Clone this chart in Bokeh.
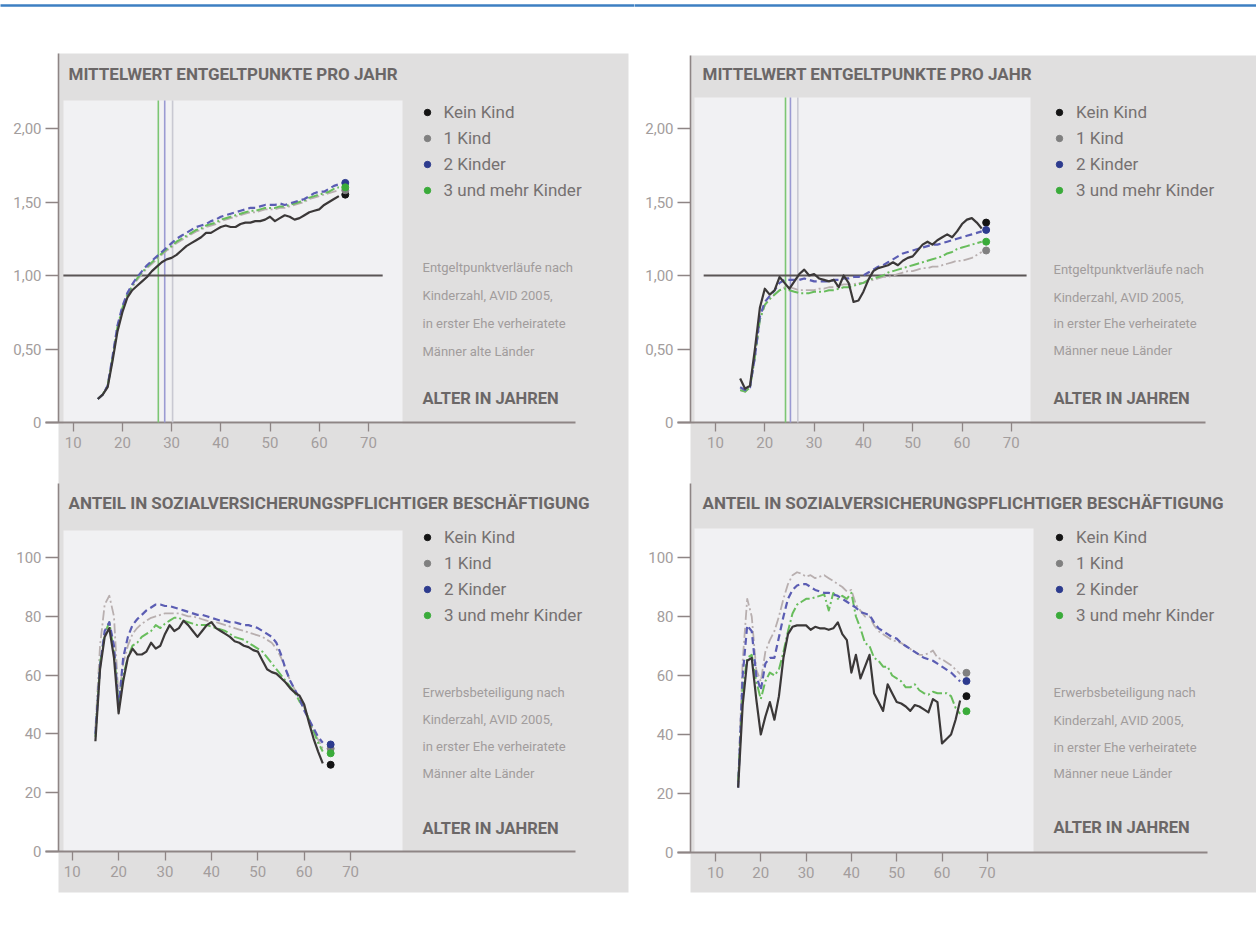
from bokeh.plotting import figure
from bokeh.models import Range1d, LinearAxis, FixedTicker, CustomJSTickFormatter, Legend, LegendItem
from bokeh.layouts import row
from bokeh.embed import file_html
from bokeh.resources import INLINE
from bokeh.core.properties import value

FONT = "Roboto"

# ---------------- data ----------------
AGES = list(range(15, 65))
SERIES = ["Kein Kind", "1 Kind", "2 Kinder", "3 und mehr Kinder"]
X_TICKS = [10, 20, 30, 40, 50, 60, 70]
EP_TICKS = [0, 0.5, 1.0, 1.5, 2.0]
SV_TICKS = [0, 20, 40, 60, 80, 100]

# Mittelwert Entgeltpunkte, alte Laender
EP_WEST_0 = [0.16, 0.19, 0.24, 0.42, 0.62, 0.75, 0.85, 0.90, 0.93, 0.96,
             0.99, 1.03, 1.06, 1.09, 1.11, 1.12, 1.14, 1.17, 1.20, 1.22,
             1.24, 1.26, 1.29, 1.29, 1.31, 1.33, 1.34, 1.33, 1.33, 1.35,
             1.36, 1.36, 1.37, 1.37, 1.38, 1.40, 1.37, 1.39, 1.41, 1.40,
             1.38, 1.39, 1.41, 1.43, 1.44, 1.45, 1.48, 1.50, 1.52, 1.54]
EP_WEST_1 = [0.16, 0.19, 0.25, 0.44, 0.64, 0.77, 0.86, 0.92, 0.97, 1.01,
             1.05, 1.08, 1.11, 1.14, 1.17, 1.19, 1.22, 1.24, 1.26, 1.28,
             1.30, 1.31, 1.33, 1.34, 1.35, 1.37, 1.38, 1.39, 1.40, 1.41,
             1.42, 1.43, 1.43, 1.44, 1.45, 1.45, 1.45, 1.46, 1.46, 1.47,
             1.48, 1.49, 1.50, 1.52, 1.53, 1.54, 1.55, 1.56, 1.57, 1.58]
EP_WEST_2 = [0.16, 0.19, 0.25, 0.45, 0.66, 0.79, 0.88, 0.94, 0.99, 1.03,
             1.07, 1.10, 1.13, 1.16, 1.19, 1.22, 1.25, 1.27, 1.29, 1.31,
             1.33, 1.34, 1.35, 1.37, 1.38, 1.40, 1.41, 1.42, 1.43, 1.44,
             1.45, 1.46, 1.46, 1.47, 1.48, 1.48, 1.48, 1.49, 1.48, 1.49,
             1.50, 1.51, 1.52, 1.54, 1.56, 1.57, 1.57, 1.59, 1.61, 1.62]
EP_WEST_3 = [0.16, 0.19, 0.25, 0.44, 0.65, 0.78, 0.87, 0.93, 0.98, 1.02,
             1.06, 1.09, 1.12, 1.15, 1.18, 1.20, 1.23, 1.25, 1.27, 1.29,
             1.31, 1.32, 1.34, 1.35, 1.36, 1.38, 1.39, 1.40, 1.41, 1.42,
             1.43, 1.44, 1.44, 1.45, 1.46, 1.46, 1.46, 1.47, 1.47, 1.48,
             1.49, 1.50, 1.51, 1.53, 1.54, 1.55, 1.56, 1.57, 1.59, 1.60]
EP_WEST_END_AGE = 65.3
EP_WEST_END = [1.55, 1.58, 1.63, 1.60]
EP_WEST_VLINES = [27.3, 28.6, 30.2]

# Mittelwert Entgeltpunkte, neue Laender
EP_EAST_0 = [0.30, 0.23, 0.25, 0.50, 0.78, 0.91, 0.87, 0.90, 0.99, 0.95,
             0.91, 0.96, 1.01, 1.04, 1.00, 1.01, 0.98, 0.97, 0.96, 0.97,
             0.92, 1.00, 0.95, 0.82, 0.83, 0.89, 0.97, 1.03, 1.05, 1.06,
             1.07, 1.09, 1.07, 1.10, 1.12, 1.13, 1.17, 1.21, 1.23, 1.21,
             1.24, 1.26, 1.28, 1.26, 1.30, 1.35, 1.38, 1.39, 1.36, 1.32]
EP_EAST_1 = [0.22, 0.21, 0.24, 0.44, 0.70, 0.80, 0.84, 0.87, 0.90, 0.92,
             0.92, 0.91, 0.90, 0.90, 0.90, 0.90, 0.91, 0.91, 0.92, 0.92,
             0.93, 0.94, 0.94, 0.94, 0.95, 0.95, 0.96, 0.97, 0.98, 0.99,
             0.99, 1.00, 1.01, 1.02, 1.03, 1.03, 1.04, 1.05, 1.05, 1.06,
             1.06, 1.07, 1.08, 1.09, 1.10, 1.10, 1.11, 1.12, 1.14, 1.16]
EP_EAST_2 = [0.24, 0.22, 0.24, 0.45, 0.72, 0.82, 0.86, 0.90, 0.95, 0.97,
             0.97, 0.97, 0.97, 0.98, 0.97, 0.96, 0.96, 0.96, 0.96, 0.97,
             0.97, 0.98, 0.98, 0.99, 0.99, 1.00, 1.02, 1.04, 1.06, 1.07,
             1.09, 1.11, 1.13, 1.15, 1.16, 1.17, 1.18, 1.19, 1.20, 1.21,
             1.21, 1.22, 1.23, 1.24, 1.25, 1.26, 1.27, 1.28, 1.29, 1.30]
EP_EAST_3 = [0.22, 0.21, 0.24, 0.45, 0.70, 0.80, 0.84, 0.87, 0.90, 0.91,
             0.90, 0.89, 0.88, 0.88, 0.88, 0.89, 0.89, 0.89, 0.90, 0.90,
             0.91, 0.92, 0.92, 0.93, 0.94, 0.95, 0.97, 0.98, 0.99, 1.00,
             1.02, 1.03, 1.04, 1.05, 1.06, 1.07, 1.08, 1.09, 1.10, 1.11,
             1.12, 1.13, 1.15, 1.16, 1.18, 1.19, 1.20, 1.21, 1.22, 1.23]
EP_EAST_END_AGE = 64.9
EP_EAST_END = [1.36, 1.17, 1.31, 1.23]
EP_EAST_VLINES = [24.2, 25.2, 26.7]

# Anteil in SV-Beschaeftigung, alte Laender
SV_WEST_0 = [37.5, 62, 73, 76, 66, 47, 58, 66, 69, 67,
             67, 68, 71, 69, 70, 74, 77, 75, 76, 78.5,
             77, 75, 73, 75, 77, 78, 76, 75, 74, 73,
             71.5, 71, 70, 69.5, 68.5, 68, 65, 62, 61, 60.5,
             59, 57.5, 55.5, 54, 53, 50, 44, 38.5, 34, 30]
SV_WEST_1 = [42, 70, 84, 87, 80, 52, 64, 70, 74, 76,
             77.5, 78.5, 79.5, 80, 80.5, 81, 81, 81, 81, 80.5,
             80, 80, 79.5, 79, 78.5, 78, 78, 77.5, 77, 76.5,
             76, 75.5, 75, 74.5, 74, 73.5, 73, 72, 71, 69,
             66, 62, 58, 55, 52, 49, 45, 41, 38, 35]
SV_WEST_2 = [40, 63, 75, 78, 70, 49, 66, 73, 77, 79,
             80.5, 82, 83, 84, 84, 83.5, 83.5, 83, 82.5, 82,
             81.5, 81, 80.5, 80.5, 80, 79.5, 79, 78.5, 78.5, 78,
             78, 77.5, 77, 77, 76.5, 76, 75, 74, 73, 71,
             67, 62, 58, 55, 52, 48, 45, 42, 39, 37]
SV_WEST_3 = [39, 64, 74, 78, 68, 50, 60, 66, 70, 71,
             73, 74, 75, 77, 76, 77.5, 78.5, 79.5, 79.5, 78.5,
             78, 77.5, 77, 77, 77, 76.5, 76, 75.5, 75, 74,
             73, 72.5, 72, 71, 70, 69, 68, 66, 64, 62,
             60, 58, 56, 54, 51, 49, 45, 41, 37, 34]
SV_WEST_END_AGE = 65.7
SV_WEST_END = [29.5, 35.0, 36.4, 33.4]

# Anteil in SV-Beschaeftigung, neue Laender
SV_EAST_0 = [22, 50, 65, 66, 52, 40, 46, 51, 45, 53,
             66, 74, 76.5, 77, 77, 77, 75.5, 76.5, 76, 76,
             75.5, 76, 78, 74, 72, 61, 67, 59, 63, 67,
             54, 51, 48, 57, 54, 51, 50.5, 49.5, 48, 50,
             49.5, 48.5, 47.5, 52, 51, 37, 38.5, 40, 45, 51.5]
SV_EAST_1 = [24, 65, 86, 80, 62, 58, 68, 72, 75, 80,
             86, 91, 94, 95, 94.5, 93.5, 94, 93, 93.5, 94,
             93, 92, 91, 90, 88.5, 89, 84, 82, 80, 80,
             77, 75, 74, 73, 72, 71.5, 71, 70, 69, 68,
             67, 67, 67.5, 68.5, 66, 65.5, 64.5, 63.5, 62, 60.5]
SV_EAST_2 = [22, 60, 77, 75, 60, 55, 64, 66, 66, 73,
             80, 86, 89, 90.5, 91, 91, 90, 89, 88.5, 88,
             88, 87.5, 87, 86, 85, 84, 83, 81.5, 81, 80.5,
             78, 76, 75, 74, 73, 72.5, 71, 70, 69, 68,
             67, 66, 65.5, 65, 64, 63, 62, 61, 59.5, 58]
SV_EAST_3 = [24, 55, 66, 67, 58, 52, 58, 61, 60, 62,
             68, 75, 81, 84, 85, 86, 86, 86.5, 87, 87.5,
             82, 88, 86, 87, 86, 88, 80, 76, 71, 70,
             66, 65, 63, 63, 60, 59, 58, 56, 56, 57,
             55, 54, 53.5, 54.5, 54, 54, 54, 53, 49, 47]
SV_EAST_END_AGE = 65.4
SV_EAST_END = [53.0, 60.9, 58.1, 47.9]

REF_LINE_EP = 1.0

# ---------------- styles ----------------
LINE_COLORS = ["#3b3838", "#b8afaf", "#5b5db3", "#68bd5c"]
LINE_DASH = ["solid", "10 3 2 3", "7 4", "10 3 2 3"]
LINE_WIDTH = [2.2, 1.8, 2.2, 2.0]
DOT_COLORS = ["#141414", "#808080", "#2d3b8e", "#3aab3a"]
VLINE_COLORS = ["#7cc673", "#9a9ad2", "#c9c9d2"]
DRAW_ORDER = [1, 3, 2, 0]

PANEL_GRAY = "#e0dfdf"
INNER = "#f1f1f3"
AXIS_COL = "#8e8585"
TICK_LABEL = "#a39d9d"
TITLE_COL = "#6b6767"
LEGEND_COL = "#767171"
DESC_COL = "#a19c9c"

CANVAS_H = 922


def mappers(spec):
    x10, kx = spec["xmap"]
    y0, ky = spec["ymap"]

    def dx(px):
        return 10 + (px - x10) / kx

    def dy(py):
        return (y0 - py) / ky
    return dx, dy


def make_column(cx, cw, top, bottom, gray):
    dxt, dyt = mappers(top)
    p = figure(width=cw, height=CANVAS_H,
               x_range=Range1d(dxt(cx), dxt(cx + cw)),
               y_range=Range1d(dyt(CANVAS_H), dyt(0)),
               output_backend="svg", toolbar_location=None, tools="",
               x_axis_location=None, y_axis_location=None,
               min_border=0, outline_line_color=None,
               background_fill_color="white", border_fill_color="white")
    p.grid.visible = False
    dxb, dyb = mappers(bottom)
    p.extra_x_ranges = {"xb": Range1d(dxb(cx), dxb(cx + cw))}
    p.extra_y_ranges = {"yb": Range1d(dyb(CANVAS_H), dyb(0))}

    # column background and blue rule
    gl, gr, gt, gb = gray
    p.quad(left=dxt(gl), right=dxt(gr), top=dyt(gt), bottom=dyt(gb),
           fill_color=PANEL_GRAY, line_color=None)
    p.segment(x0=dxt(cx - 2), x1=dxt(cx + cw + 2), y0=dyt(5), y1=dyt(5),
              line_color="#3d7fc2", line_width=2.5)

    add_panel(p, top, cx, cw, "default", "default")
    add_panel(p, bottom, cx, cw, "xb", "yb")
    return p


def add_panel(p, spec, cx, cw, xn, yn):
    dx, dy = mappers(spec)
    kw = dict(x_range_name=xn, y_range_name=yn)

    il, ir, it, ib = spec["inner"]
    p.quad(left=dx(il), right=dx(ir), top=dy(it), bottom=dy(ib),
           fill_color=INNER, line_color=None, **kw)

    # axis lines
    ax_x = spec["yaxis_px"]
    p.segment(x0=dx(ax_x), x1=dx(ax_x), y0=dy(spec["yaxis_top"]), y1=0,
              line_color=AXIS_COL, line_width=1.6, **kw)
    xl, xr = spec["xaxis_px"]
    p.segment(x0=dx(xl), x1=dx(xr), y0=0, y1=0, line_color=AXIS_COL, line_width=1.8, **kw)

    yax = LinearAxis(fixed_location=dx(ax_x), ticker=FixedTicker(ticks=spec["yticks"]),
                     axis_line_color=None, major_tick_line_color=AXIS_COL,
                     major_tick_line_width=1.3, major_tick_out=13, major_tick_in=0,
                     minor_tick_line_color=None, major_label_standoff=4,
                     major_label_text_font=FONT, major_label_text_font_size="15px",
                     major_label_text_color=TICK_LABEL, **kw)
    if spec["ep"]:
        yax.formatter = CustomJSTickFormatter(
            code="return tick == 0 ? '0' : tick.toFixed(2).replace('.', ',');")
    p.add_layout(yax, "left")
    xax = LinearAxis(fixed_location=0, ticker=FixedTicker(ticks=X_TICKS),
                     axis_line_color=None, major_tick_line_color=AXIS_COL,
                     major_tick_line_width=1.3, major_tick_out=9, major_tick_in=0,
                     minor_tick_line_color=None, major_label_standoff=5,
                     major_label_text_font=FONT, major_label_text_font_size="15px",
                     major_label_text_color=TICK_LABEL, **kw)
    p.add_layout(xax, "below")

    # reference lines
    if spec["ep"]:
        for age, col in zip(spec["vlines"], VLINE_COLORS):
            p.segment(x0=age, x1=age, y0=0, y1=dy(it), line_color=col, line_width=1.6, **kw)
        p.segment(x0=spec["ref_x"][0], x1=spec["ref_x"][1], y0=REF_LINE_EP, y1=REF_LINE_EP,
                  line_color="#5a5555", line_width=1.8, **kw)

    # series
    for i in DRAW_ORDER:
        p.line(AGES, spec["series"][i], line_color=LINE_COLORS[i], line_width=LINE_WIDTH[i],
               line_dash=LINE_DASH[i], line_join="round", **kw)
    dots = []
    for i in range(4):
        r = p.scatter([spec["end_age"]], [spec["end"][i]], size=7,
                      fill_color=DOT_COLORS[i], line_color=DOT_COLORS[i], **kw)
        dots.append(r)

    # legend
    dot_x, first_row = spec["legend"]
    lx = (dot_x - 8) - cx
    ly = CANVAS_H - (first_row - 10 + 4 * 20 + 3 * 6)
    legend = Legend(items=[LegendItem(label=SERIES[i], renderers=[dots[i]]) for i in range(4)],
                    location=(lx, ly), padding=0, margin=0, spacing=6,
                    glyph_width=16, glyph_height=20, label_height=20, label_standoff=9,
                    label_text_font=FONT, label_text_font_size="17px",
                    label_text_color=LEGEND_COL, background_fill_alpha=0,
                    border_line_alpha=0)
    p.add_layout(legend)

    # texts
    tx, ty = spec["title_pos"]
    p.text(x=[dx(tx)], y=[dy(ty)], text=[spec["title"]], text_font=value(FONT),
           text_font_style="bold", text_font_size="17px", text_color=TITLE_COL,
           text_baseline="middle", text_align="left", **kw)
    desc_x = spec["desc_x"]
    p.text(x=[dx(desc_x)] * 4, y=[dy(v) for v in spec["desc_y"]], text=spec["desc"],
           text_font=value(FONT), text_font_size="13px", text_color=DESC_COL,
           text_baseline="middle", text_align="left", **kw)
    p.text(x=[dx(desc_x)], y=[dy(spec["alter_y"])], text=["ALTER IN JAHREN"],
           text_font=value(FONT), text_font_style="bold", text_font_size="16.5px",
           text_color=TITLE_COL, text_baseline="middle", text_align="left", **kw)


TITLE_EP = "MITTELWERT ENTGELTPUNKTE PRO JAHR"
TITLE_SV = "ANTEIL IN SOZIALVERSICHERUNGSPFLICHTIGER BESCHÄFTIGUNG"
DESC_EP_W = ["Entgeltpunktverläufe nach", "Kinderzahl, AVID 2005,",
             "in erster Ehe verheiratete", "Männer alte Länder"]
DESC_EP_E = ["Entgeltpunktverläufe nach", "Kinderzahl, AVID 2005,",
             "in erster Ehe verheiratete", "Männer neue Länder"]
DESC_SV_W = ["Erwerbsbeteiligung nach", "Kinderzahl, AVID 2005,",
             "in erster Ehe verheiratete", "Männer alte Länder"]
DESC_SV_E = ["Erwerbsbeteiligung nach", "Kinderzahl, AVID 2005,",
             "in erster Ehe verheiratete", "Männer neue Länder"]

LEFT_GRAY = (58, 628, 53, 892)
RIGHT_GRAY = (690, 1300, 55, 892)
LW, RW = 634, 622

tl = dict(xmap=(72.7, 4.92), ymap=(422, 147), ep=True,
          inner=(63, 402, 100, 423),
          yaxis_px=58, yaxis_top=53, xaxis_px=(45, 575), yticks=EP_TICKS,
          vlines=EP_WEST_VLINES, ref_x=(8.0, 72.9),
          series=[EP_WEST_0, EP_WEST_1, EP_WEST_2, EP_WEST_3],
          end_age=EP_WEST_END_AGE, end=EP_WEST_END,
          legend=(426.5, 112), title=TITLE_EP, title_pos=(68, 73),
          desc_x=422, desc_y=[267, 295, 323, 351], desc=DESC_EP_W, alter_y=398)

tr = dict(xmap=(715, 4.93), ymap=(422, 147), ep=True,
          inner=(694, 1030, 97, 423),
          yaxis_px=690, yaxis_top=55, xaxis_px=(677, 1205), yticks=EP_TICKS,
          vlines=EP_EAST_VLINES, ref_x=(7.6, 73.1),
          series=[EP_EAST_0, EP_EAST_1, EP_EAST_2, EP_EAST_3],
          end_age=EP_EAST_END_AGE, end=EP_EAST_END,
          legend=(1059, 112), title=TITLE_EP, title_pos=(702, 73),
          desc_x=1053, desc_y=[269, 297, 323, 350], desc=DESC_EP_E, alter_y=398)

bl = dict(xmap=(71.7, 4.64), ymap=(851, 2.94), ep=False,
          inner=(63, 402, 530, 851),
          yaxis_px=58, yaxis_top=483, xaxis_px=(45, 575), yticks=SV_TICKS,
          series=[SV_WEST_0, SV_WEST_1, SV_WEST_2, SV_WEST_3],
          end_age=SV_WEST_END_AGE, end=SV_WEST_END,
          legend=(427, 537), title=TITLE_SV, title_pos=(68, 502),
          desc_x=422, desc_y=[692, 719, 746, 773], desc=DESC_SV_W, alter_y=828)

br = dict(xmap=(715, 4.53), ymap=(852, 2.95), ep=False,
          inner=(694, 1033, 528, 852),
          yaxis_px=690, yaxis_top=483, xaxis_px=(677, 1207), yticks=SV_TICKS,
          series=[SV_EAST_0, SV_EAST_1, SV_EAST_2, SV_EAST_3],
          end_age=SV_EAST_END_AGE, end=SV_EAST_END,
          legend=(1059, 537), title=TITLE_SV, title_pos=(702, 502),
          desc_x=1053, desc_y=[692, 720, 747, 773], desc=DESC_SV_E, alter_y=827)

left = make_column(0, LW, tl, bl, LEFT_GRAY)
right = make_column(LW, RW, tr, br, RIGHT_GRAY)

layout = row(left, right, spacing=0)
open("out.html", "w").write(file_html(layout, INLINE))
